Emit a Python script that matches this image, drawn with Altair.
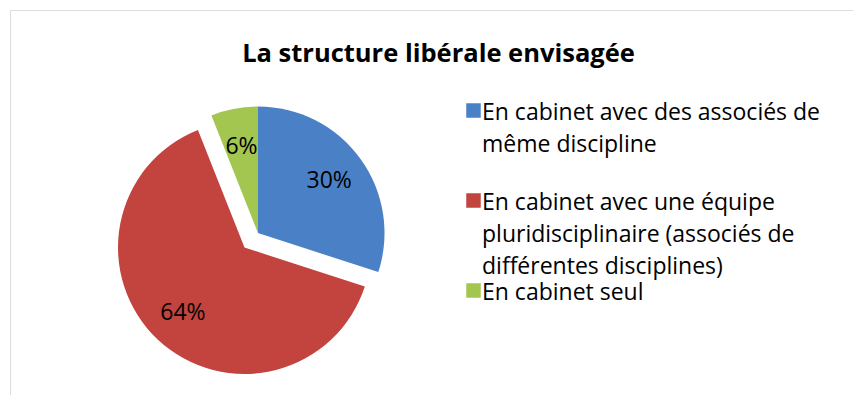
import altair as alt
import pandas as pd

categories = [
    "En cabinet avec des associés de même discipline",
    "En cabinet avec une équipe pluridisciplinaire (associés de différentes disciplines)",
    "En cabinet seul",
]
values = [30, 64, 6]
legend_lines = [
    ["En cabinet avec des associés de", "même discipline"],
    ["En cabinet avec une équipe", "pluridisciplinaire (associés de", "différentes disciplines)"],
    ["En cabinet seul"],
]
colors = ["#4A80C6", "#C3433F", "#A3C650"]
exploded = [False, True, False]
title_text = "La structure libérale envisagée"

df = pd.DataFrame({"cat": categories, "value": values, "exploded": exploded})
df["end"] = df["value"].cumsum()
df["start"] = df["end"] - df["value"]
df["mid"] = (df["start"] + df["end"]) / 2
df["label"] = df["value"].astype(str) + "%"

# legend label expression (multi-line labels)
expr = "''"
for cat, lines in reversed(list(zip(categories, legend_lines))):
    arr = "[" + ",".join("'" + l + "'" for l in lines) + "]"
    expr = f"datum.label == '{cat}' ? {arr} : ({expr})"

FONT = "Open Sans"
R = 126.5
CX, CY = 248, 223
OX, OY = -13.5, 14.5

theta_scale = alt.Scale(domain=[0, 100], range=[0, 6.283185307179586])
color_enc = alt.Color(
    "cat:N",
    scale=alt.Scale(domain=categories, range=colors),
    legend=alt.Legend(
        title=None,
        orient="none",
        legendX=452,
        legendY=89,
        symbolType="square",
        symbolSize=210,
        symbolStrokeWidth=0,
        symbolOpacity=1,
        labelFont=FONT,
        labelFontSize=23,
        labelColor="#000000",
        labelLimit=0,
        labelBaseline="top",
        labelExpr=expr,
        labelOffset=0,
        gridAlign="all",
        rowPadding=-5,
    ),
)

base = alt.Chart(df)

arcs_main = base.transform_filter("!datum.exploded").mark_arc(radius=R).encode(
    theta=alt.Theta("start:Q", scale=theta_scale),
    theta2="end:Q",
    color=color_enc,
    x=alt.value(CX),
    y=alt.value(CY),
)
arcs_exp = base.transform_filter("datum.exploded").mark_arc(
    radius=R, xOffset=OX, yOffset=OY
).encode(
    theta=alt.Theta("start:Q", scale=theta_scale),
    theta2="end:Q",
    color=color_enc,
    x=alt.value(CX),
    y=alt.value(CY),
)
text_main = base.transform_filter("!datum.exploded").mark_text(
    radius=88, font=FONT, fontSize=23, color="black"
).encode(
    theta=alt.Theta("mid:Q", scale=theta_scale),
    text="label:N",
    x=alt.value(CX),
    y=alt.value(CY),
)
text_exp = base.transform_filter("datum.exploded").mark_text(
    radius=90, font=FONT, fontSize=23, color="black", xOffset=OX, yOffset=OY
).encode(
    theta=alt.Theta("mid:Q", scale=theta_scale),
    text="label:N",
    x=alt.value(CX),
    y=alt.value(CY),
)

chart = (
    alt.layer(arcs_main, arcs_exp, text_main, text_exp)
    .properties(
        width=851,
        height=393,
        padding={"left": 2, "top": 2, "right": -8, "bottom": -8},
        autosize="none",
        title=alt.TitleParams(
            title_text,
            font=FONT,
            fontSize=25.5,
            fontWeight="bold",
            color="#000000",
            anchor="middle",
            offset=-57,
            dx=3,
        ),
    )
    .configure_view(stroke="#7f7f7f", strokeWidth=2)
    .configure(
        background="white",
        style={"guide-label": {"lineHeight": 32, "dy": -9, "dx": -3}},
    )
)

chart.save("out.html", embed_options={"renderer": "svg", "actions": False})
